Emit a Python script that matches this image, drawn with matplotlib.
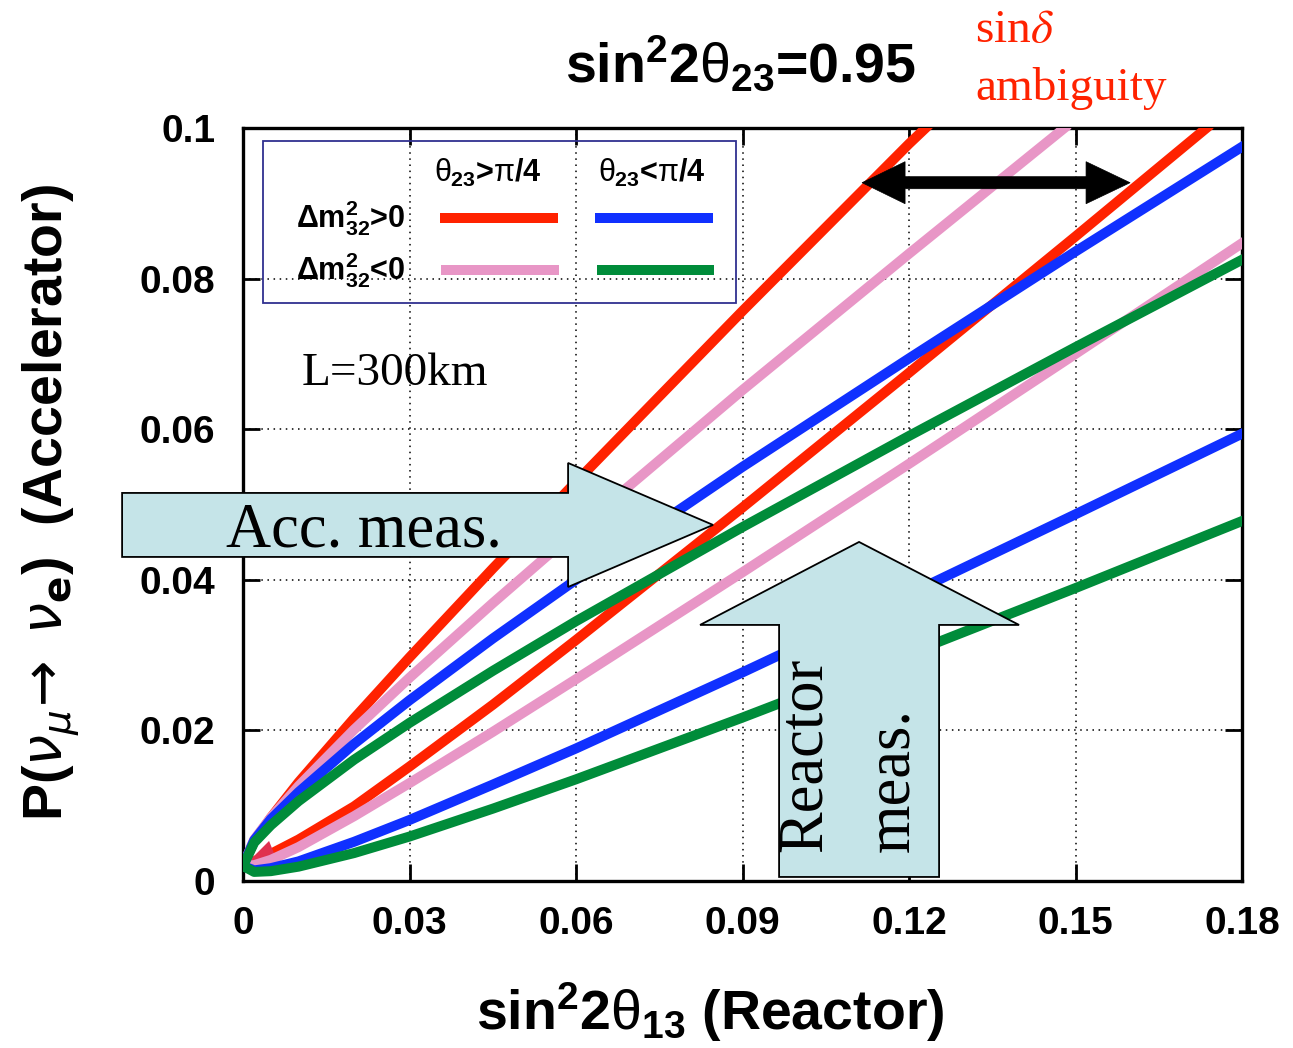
import matplotlib
matplotlib.use('Agg')
import matplotlib.pyplot as plt
from matplotlib.patches import Polygon

plt.rcParams['font.family'] = ['Liberation Sans', 'DejaVu Sans']
plt.rcParams['mathtext.fontset'] = 'custom'
plt.rcParams['mathtext.rm'] = 'Liberation Sans:bold'
plt.rcParams['mathtext.bf'] = 'Liberation Sans:bold'
plt.rcParams['mathtext.sf'] = 'Liberation Sans:bold'
plt.rcParams['mathtext.it'] = 'Liberation Sans'

# sin^2 2theta13 vs P(numu -> nue)
x_full = [0, 0.002, 0.005, 0.01, 0.02, 0.03, 0.045, 0.06, 0.09, 0.12, 0.15, 0.18]

# dm32 > 0, theta23 > pi/4 (red)
red_hi_x = [0, 0.002, 0.005, 0.01, 0.02, 0.03, 0.045, 0.06, 0.09, 0.12, 0.123]
red_hi_y = [0.002, 0.0053, 0.0084, 0.0131, 0.0216, 0.0297, 0.0415, 0.0530, 0.0757, 0.0979, 0.100]
red_lo_x = [0, 0.002, 0.005, 0.01, 0.02, 0.03, 0.045, 0.06, 0.09, 0.12, 0.15, 0.1736]
red_lo_y = [0.002, 0.0026, 0.0036, 0.0055, 0.0099, 0.0152, 0.0234, 0.0320, 0.0496, 0.0675, 0.0856, 0.100]

# dm32 < 0, theta23 > pi/4 (pink)
pink_hi_x = [0, 0.002, 0.005, 0.01, 0.02, 0.03, 0.045, 0.06, 0.09, 0.12, 0.148]
pink_hi_y = [0.002, 0.0055, 0.0084, 0.0126, 0.0201, 0.0270, 0.0369, 0.0465, 0.0652, 0.0833, 0.100]
pink_lo_y = [0.002, 0.0021, 0.0028, 0.0045, 0.0086, 0.0130, 0.0198, 0.0268, 0.0410, 0.0554, 0.0700, 0.0847]

# dm32 > 0, theta23 < pi/4 (blue)
blue_hi_y = [0.002, 0.0054, 0.0082, 0.0118, 0.0182, 0.0240, 0.0322, 0.0400, 0.0550, 0.0694, 0.0836, 0.0975]
blue_lo_y = [0.002, 0.0014, 0.0017, 0.0026, 0.0052, 0.0081, 0.0128, 0.0176, 0.0277, 0.0381, 0.0487, 0.0594]

# dm32 < 0, theta23 < pi/4 (green)
green_hi_y = [0.002, 0.0051, 0.0074, 0.0106, 0.0161, 0.0210, 0.0279, 0.0345, 0.0470, 0.0591, 0.0709, 0.0825]
green_lo_y = [0.002, 0.0012, 0.0013, 0.0019, 0.0037, 0.0059, 0.0096, 0.0135, 0.0217, 0.0302, 0.0389, 0.0478]

x_ticks = [0, 0.03, 0.06, 0.09, 0.12, 0.15, 0.18]
x_ticklabels = ['0', '0.03', '0.06', '0.09', '0.12', '0.15', '0.18']
y_ticks = [0, 0.02, 0.04, 0.06, 0.08, 0.1]
y_ticklabels = ['0', '0.02', '0.04', '0.06', '0.08', '0.1']

c_red = '#ff2200'
c_pink = '#e896c6'
c_blue = '#1030ff'
c_green = '#008c3a'
c_box = '#c5e4e8'

fig = plt.figure(figsize=(12.93, 10.48), dpi=100)
ax = fig.add_axes([0.188, 0.1594, 0.7726, 0.7185])

lw = 7.2
ax.plot(red_hi_x, red_hi_y, color=c_red, lw=lw, zorder=3)
ax.plot(red_lo_x, red_lo_y, color=c_red, lw=lw, zorder=3)
ax.plot(pink_hi_x, pink_hi_y, color=c_pink, lw=lw, zorder=3.1)
ax.plot(x_full, pink_lo_y, color=c_pink, lw=lw, zorder=3.1)
ax.plot(x_full, blue_hi_y, color=c_blue, lw=lw, zorder=3.2)
ax.plot(x_full, blue_lo_y, color=c_blue, lw=lw, zorder=3.2)
ax.plot(x_full, green_hi_y, color=c_green, lw=lw, zorder=3.3)
ax.plot(x_full, green_lo_y, color=c_green, lw=lw, zorder=3.3)

# small filled wedge near the origin
ax.fill([0.00036, 0.00468, 0.00577], [0.00212, 0.00531, 0.00332], color='#e0304f', zorder=3.05, lw=0)

ax.set_xlim(0, 0.18)
ax.set_ylim(0, 0.1)
ax.set_xticks(x_ticks)
ax.set_xticklabels(x_ticklabels)
ax.set_yticks(y_ticks)
ax.set_yticklabels(y_ticklabels)
ax.tick_params(direction='in', top=True, right=True, length=12, width=2,
               labelsize=28, pad=18)
for lab in ax.get_xticklabels() + ax.get_yticklabels():
    lab.set_fontweight('bold')
ax.tick_params(axis='y', pad=20)
for sp in ax.spines.values():
    sp.set_linewidth(2.4)
ax.grid(True, color='k', linestyle=(0, (1, 3)), linewidth=1.1)
ax.set_axisbelow(True)

# legend box (drawn by hand as a 2x2 table)
ax.add_patch(Polygon([(0.0036, 0.0768), (0.0888, 0.0768), (0.0888, 0.0983), (0.0036, 0.0983)],
                     closed=True, fill=False, edgecolor='#303090', lw=1.3, zorder=4))
ax.text(0.0441, 0.0940, r'$\theta_{23}$>$\pi$/4', ha='center', va='center', fontsize=22, fontweight='bold')
ax.text(0.0737, 0.0940, r'$\theta_{23}$<$\pi$/4', ha='center', va='center', fontsize=22, fontweight='bold')
ax.text(0.0292, 0.0880, r'$\Delta$m$^{2}_{32}$>0', ha='right', va='center', fontsize=22, fontweight='bold')
ax.text(0.0292, 0.0811, r'$\Delta$m$^{2}_{32}$<0', ha='right', va='center', fontsize=22, fontweight='bold')
ax.plot([0.0355, 0.0568], [0.0880, 0.0880], color=c_red, lw=lw, solid_capstyle='butt', zorder=4)
ax.plot([0.0634, 0.0847], [0.0880, 0.0880], color=c_blue, lw=lw, solid_capstyle='butt', zorder=4)
ax.plot([0.0357, 0.0570], [0.0811, 0.0811], color=c_pink, lw=lw, solid_capstyle='butt', zorder=4)
ax.plot([0.0637, 0.0848], [0.0811, 0.0811], color=c_green, lw=lw, solid_capstyle='butt', zorder=4)

ax.text(0.0106, 0.0659, 'L=300km', fontsize=34, family='Liberation Serif', va='baseline')

# "Acc. meas." arrow
acc_arrow = [(-0.0218, 0.05153), (0.05856, 0.05153), (0.05856, 0.05551), (0.08468, 0.04728),
             (0.05856, 0.03904), (0.05856, 0.04303), (-0.0218, 0.04303)]
ax.add_patch(Polygon(acc_arrow, closed=True, facecolor=c_box, edgecolor='k', lw=1.3,
                     clip_on=False, zorder=6))
ax.text(0.0218, 0.04436, 'Acc. meas.', fontsize=45, family='Liberation Serif',
        ha='center', va='baseline', zorder=7, clip_on=False)

# "Reactor meas." arrow
rea_arrow = [(0.09658, 0.00053), (0.09658, 0.0340), (0.08234, 0.0340), (0.11099, 0.04502),
             (0.13982, 0.0340), (0.12541, 0.0340), (0.12541, 0.00053)]
ax.add_patch(Polygon(rea_arrow, closed=True, facecolor=c_box, edgecolor='k', lw=1.3, zorder=6))
ax.text(0.10407, 0.00385, 'Reactor', fontsize=45, family='Liberation Serif', rotation=90,
        rotation_mode='anchor', ha='left', va='baseline', zorder=7)
ax.text(0.11982, 0.00385, 'meas.', fontsize=45, family='Liberation Serif', rotation=90,
        rotation_mode='anchor', ha='left', va='baseline', zorder=7)

# sin(delta) ambiguity double arrow
dbl = [(0.11153, 0.09273), (0.11928, 0.09552), (0.11928, 0.09353), (0.15189, 0.09353),
       (0.15189, 0.09552), (0.15982, 0.09273), (0.15189, 0.08994), (0.15189, 0.09193),
       (0.11928, 0.09193), (0.11928, 0.08994)]
ax.add_patch(Polygon(dbl, closed=True, facecolor='k', edgecolor='k', lw=0.5, zorder=6))

fig.text(0.573, 0.938, r'sin$^{2}$2$\theta_{23}$=0.95', ha='center', va='center',
         fontsize=40, fontweight='bold')
fig.text(0.754, 0.960, r'sin$\delta$', fontsize=34, family='Liberation Serif',
         color=c_red, va='baseline', math_fontfamily='stix')
fig.text(0.754, 0.9046, 'ambiguity', fontsize=34, family='Liberation Serif',
         color=c_red, va='baseline')
fig.text(0.549, 0.0172, r'sin$^{2}$2$\theta_{13}$ (Reactor)', ha='center', va='baseline',
         fontsize=40, fontweight='bold')
fig.text(0.048, 0.521, r'P($\nu_{\mu}\!\rightarrow$ $\nu_{\mathbf{e}}$)  (Accelerator)',
         rotation=90, rotation_mode='anchor', ha='center', va='baseline',
         fontsize=40, fontweight='bold', math_fontfamily='dejavusans')

fig.savefig('out.png', dpi=100)
